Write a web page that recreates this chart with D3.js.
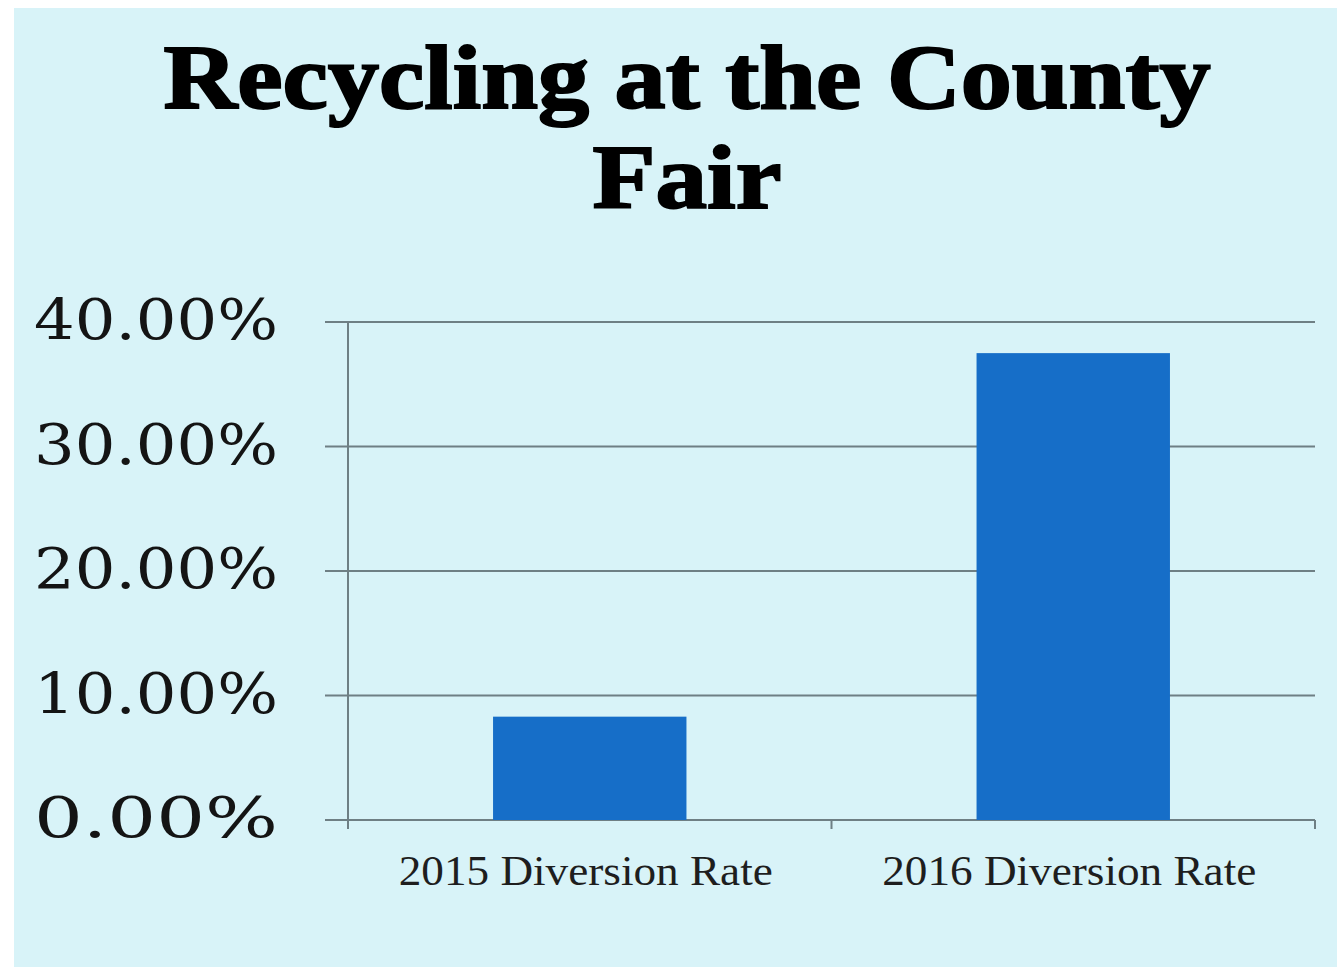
<!DOCTYPE html>
<html>
<head>
<meta charset="utf-8">
<script src="https://cdn.jsdelivr.net/npm/d3@7"></script>
<style>
  html, body { margin: 0; padding: 0; background: #ffffff; }
  svg { display: block; }
</style>
</head>
<body>
<svg id="canvas" width="1337" height="967"></svg>
<script>
// chart data
let categories = ['2015 Diversion Rate', '2016 Diversion Rate']
let rates = [8.3, 37.5]
let yTicks = [0, 10, 20, 30, 40]
let titleLines = ['Recycling at the County', 'Fair']
let titleWidths = [1047, 189]

let canvas = d3.select('#canvas')

// page background: white edge then light blue panel
canvas.append('rect')
    .attr('x', 0).attr('y', 0)
    .attr('width', 1337).attr('height', 967)
    .attr('fill', '#ffffff')
canvas.append('rect')
    .attr('x', 14).attr('y', 8)
    .attr('width', 1323).attr('height', 959)
    .attr('fill', '#d8f3f8')

let plotLeft = 348, plotRight = 1315, plotTop = 322, plotBottom = 820

let xScale = d3.scaleBand()
    .domain(categories)
    .range([plotLeft, plotRight])
    .paddingInner(0.6)
    .paddingOuter(0.3)

let yScale = d3.scaleLinear()
    .domain([0, 40])
    .range([plotBottom, plotTop])

// gridlines
canvas.append('g')
    .selectAll('line')
    .data(yTicks)
    .enter()
    .append('line')
    .attr('x1', plotLeft - 23)
    .attr('x2', plotRight)
    .attr('y1', d => yScale(d))
    .attr('y2', d => yScale(d))
    .attr('stroke', '#6e7f84')
    .attr('stroke-width', 2)

// y axis line
canvas.append('line')
    .attr('x1', plotLeft).attr('x2', plotLeft)
    .attr('y1', plotTop).attr('y2', plotBottom + 9)
    .attr('stroke', '#6e7f84')
    .attr('stroke-width', 2)

// category separators on the x axis
let bounds = [plotLeft, (plotLeft + plotRight) / 2, plotRight]
canvas.append('g')
    .selectAll('line')
    .data(bounds)
    .enter()
    .append('line')
    .attr('x1', d => d).attr('x2', d => d)
    .attr('y1', plotBottom).attr('y2', plotBottom + 9)
    .attr('stroke', '#6e7f84')
    .attr('stroke-width', 2)

// bars
canvas.append('g')
    .selectAll('rect')
    .data(rates)
    .enter()
    .append('rect')
    .attr('x', (d, i) => xScale(categories[i]))
    .attr('y', d => yScale(d))
    .attr('width', xScale.bandwidth())
    .attr('height', d => yScale(0) - yScale(d))
    .attr('fill', '#166ec8')

// y tick labels
canvas.append('g')
    .selectAll('text')
    .data(yTicks)
    .enter()
    .append('text')
    .attr('x', 278)
    .attr('y', d => yScale(d) + 17)
    .attr('text-anchor', 'end')
    .attr('font-family', 'DejaVu Serif')
    .attr('font-size', 56)
    .attr('fill', '#141414')
    .attr('textLength', 244)
    .attr('lengthAdjust', 'spacingAndGlyphs')
    .text(d => d3.format('.2f')(d) + '%')

// x category labels
canvas.append('g')
    .selectAll('text')
    .data(categories)
    .enter()
    .append('text')
    .attr('x', d => xScale(d) + xScale.bandwidth() / 2 - 4)
    .attr('y', 885)
    .attr('text-anchor', 'middle')
    .attr('font-family', 'Liberation Serif')
    .attr('font-size', 42)
    .attr('fill', '#1e1e1e')
    .attr('textLength', 374)
    .attr('lengthAdjust', 'spacingAndGlyphs')
    .text(d => d)

// title
canvas.append('g')
    .selectAll('text')
    .data(titleLines)
    .enter()
    .append('text')
    .attr('x', 687)
    .attr('y', (d, i) => 108 + i * 100)
    .attr('text-anchor', 'middle')
    .attr('font-family', 'Liberation Serif')
    .attr('font-weight', 'bold')
    .attr('font-size', 90)
    .attr('fill', '#000000')
    .attr('stroke', '#000000')
    .attr('stroke-width', 2)
    .attr('textLength', (d, i) => titleWidths[i])
    .attr('lengthAdjust', 'spacingAndGlyphs')
    .text(d => d)
</script>
</body>
</html>
